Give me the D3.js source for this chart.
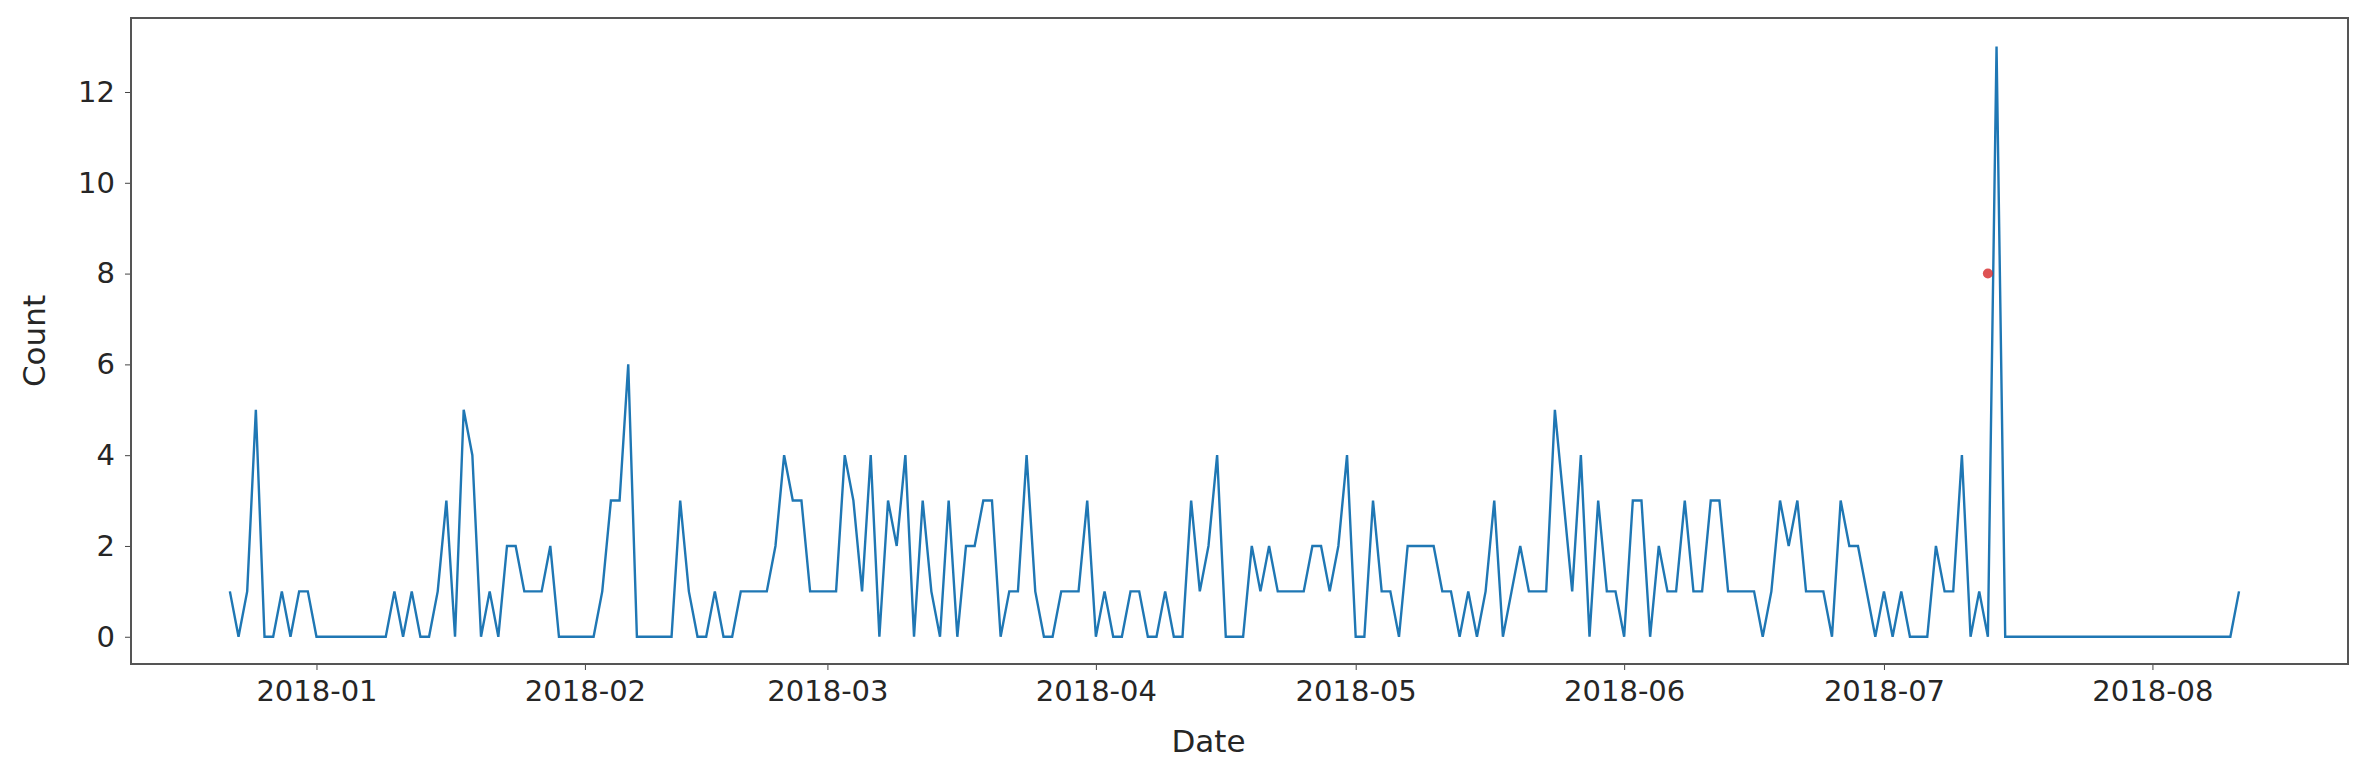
<!DOCTYPE html>
<html>
<head>
<meta charset="utf-8">
<script src="https://cdn.jsdelivr.net/npm/d3@7"></script>
<style>
  body { margin: 0; background: #fff; }
  text { font-family: "DejaVu Sans", sans-serif; fill: #262626; }
</style>
</head>
<body>
<svg width="2368" height="777"></svg>
<script>
// daily counts, first day 2017-12-22
var startDate = "2017-12-22";
var countsDec = [1,0,1,5,0,0,1,0,1,1];
var countsJan = [0,0,0,0,0,0,0,0,0,1,0,1,0,0,1,3,0,5,4,0,1,0,2,2,1,1,1,2,0,0,0];
var countsFeb = [0,0,1,3,3,6,0,0,0,0,0,3,1,0,0,1,0,0,1,1,1,1,2,4,3,3,1,1];
var countsMar = [1,1,4,3,1,4,0,3,2,4,0,3,1,0,3,0,2,2,3,3,0,1,1,4,1,0,0,1,1,1,3];
var countsApr = [0,1,0,0,1,1,0,0,1,0,0,3,1,2,4,0,0,0,2,1,2,1,1,1,1,2,2,1,2,4];
var countsMay = [0,0,3,1,1,0,2,2,2,2,1,1,0,1,0,1,3,0,1,2,1,1,1,5,3,1,4,0,3,1,1];
var countsJun = [0,3,3,0,2,1,1,3,1,1,3,3,1,1,1,1,0,1,3,2,3,1,1,1,0,3,2,2,1,0];
var countsJul = [1,0,1,0,0,0,2,1,1,4,0,1,0,13,0,0,0,0,0,0,0,0,0,0,0,0,0,0,0,0,0];
var countsAug = [0,0,0,0,0,0,0,0,0,0,1];
var markerDate = ["2018-07-13"];
var markerValue = [8];
var yTicks = [0, 2, 4, 6, 8, 10, 12];
var xTicks = ["2018-01-01","2018-02-01","2018-03-01","2018-04-01","2018-05-01","2018-06-01","2018-07-01","2018-08-01"];

var counts = [].concat(countsDec, countsJan, countsFeb, countsMar, countsApr, countsMay, countsJun, countsJul, countsAug);
var parse = d3.utcParse("%Y-%m-%d");
var t0 = parse(startDate);
var data = counts.map(function(v, i) { return {date: d3.utcDay.offset(t0, i), value: v}; });

var svg = d3.select("svg");
var margin = {top: 18, right: 20, bottom: 113, left: 131};
var width = 2348 - margin.left;
var height = 664 - margin.top;

var g = svg.append("g")
    .attr("transform", "translate(" + margin.left + "," + margin.top + ")");

var x = d3.scaleUtc()
    .domain([new Date(Date.UTC(2017, 11, 10, 14)), new Date(Date.UTC(2018, 7, 23, 14))])
    .range([0, width]);

var y = d3.scaleLinear()
    .domain([-0.6, 13.63])
    .range([height, 0]);

var line = d3.line()
    .x(function(d) { return x(d.date); })
    .y(function(d) { return y(d.value); });

g.append("path")
    .datum(data)
    .attr("fill", "none")
    .attr("stroke", "#1f77b4")
    .attr("stroke-width", 2.4)
    .attr("stroke-linejoin", "miter")
    .attr("d", line);

g.selectAll(".marker")
    .data(markerDate)
  .enter().append("circle")
    .attr("cx", function(d) { return x(parse(d)); })
    .attr("cy", function(d, i) { return y(markerValue[i]); })
    .attr("r", 5)
    .attr("fill", "#d62728")
    .attr("opacity", 0.8);

// axes
var xAxis = g.append("g")
    .attr("transform", "translate(0," + height + ")")
    .call(d3.axisBottom(x)
      .tickValues(xTicks.map(parse))
      .tickFormat(d3.utcFormat("%Y-%m"))
      .tickSize(6).tickPadding(10));

var yAxis = g.append("g")
    .call(d3.axisLeft(y)
      .tickValues(yTicks)
      .tickSize(6).tickPadding(10));

[xAxis, yAxis].forEach(function(a) {
  a.select(".domain").remove();
  a.selectAll("line").attr("stroke", "#444");
  a.selectAll("text").style("font-size", "29px").attr("fill", "#262626");
});

g.append("rect")
    .attr("width", width)
    .attr("height", height)
    .attr("fill", "none")
    .attr("stroke", "#555")
    .attr("stroke-width", 2);

svg.append("text")
    .attr("x", margin.left + x(parse("2018-04-14")))
    .attr("y", 752)
    .attr("text-anchor", "middle")
    .style("font-size", "31px")
    .text("Date");

svg.append("text")
    .attr("transform", "translate(45," + (margin.top + height / 2) + ") rotate(-90)")
    .attr("text-anchor", "middle")
    .style("font-size", "31px")
    .text("Count");
</script>
</body>
</html>
